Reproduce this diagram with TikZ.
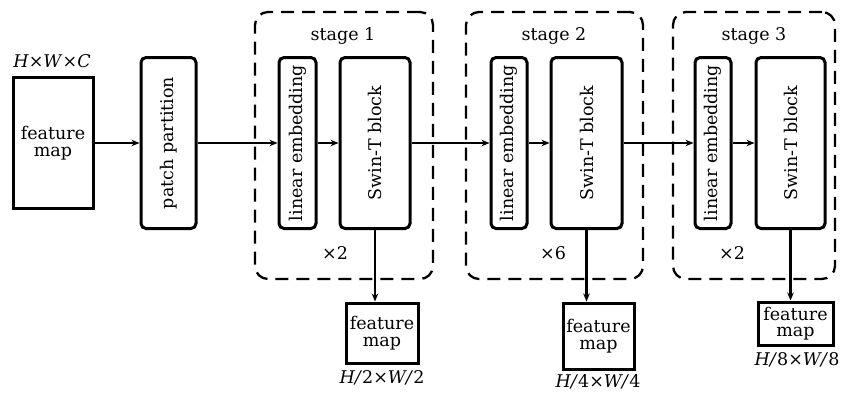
\documentclass[tikz,border=0pt]{standalone}
\usepackage{fontspec}
\usepackage{graphicx}
\setmainfont{DejaVu Serif}
\usetikzlibrary{arrows.meta}
\tikzset{
  lbl/.style={font=\fontsize{17.5}{18}\selectfont, inner sep=0pt},
  fmbox/.style={draw, line width=3pt, inner sep=0pt, align=center,
    font=\fontsize{17.5}{16.5}\selectfont},
  blockbox/.style={draw, line width=3pt, rounded corners=5pt, inner sep=0pt,
    font=\fontsize{17.5}{18}\selectfont},
  stagebox/.style={draw, line width=2.3pt, dash pattern=on 13pt off 8pt,
    rounded corners=13pt, inner sep=0pt},
  arr/.style={line width=2.8pt, -{Stealth[length=8pt,width=6.5pt]}},
}
\begin{document}
\begin{tikzpicture}[x=1pt,y=-1pt]
\useasboundingbox (0,0) rectangle (841,392);

% dashed stage frames
\node[stagebox, minimum width=178pt, minimum height=267pt] (st1) at (344,145.5) {};
\node[stagebox, minimum width=177pt, minimum height=267pt] (st2) at (554.5,145.5) {};
\node[stagebox, minimum width=162pt, minimum height=267pt] (st3) at (754,145.5) {};
\node[lbl] (st1t) at (343,36) {stage 1};
\node[lbl] (st2t) at (554,36) {stage 2};
\node[lbl] (st3t) at (754,36) {stage 3};
\node[lbl] (rep1) at (335,253) {×2};
\node[lbl] (rep2) at (553,253) {×6};
\node[lbl] (rep3) at (732,253) {×2};

% input feature map and patch partition
\node[fmbox, minimum width=80pt, minimum height=131pt] (fm0) at (53,143) {feature\\map};
\node[lbl] (fm0t) at (52,61) {\textit{H}×\textit{W}×\textit{C}};
\node[blockbox, minimum width=55pt, minimum height=171pt] (pp) at (168.5,143)
  {\rotatebox{90}{patch partition}};

% stage blocks
\node[blockbox, minimum width=37pt, minimum height=171pt] (le1) at (297.5,143)
  {\rotatebox{90}{linear embedding}};
\node[blockbox, minimum width=70pt, minimum height=171pt] (sw1) at (375,143)
  {\rotatebox{90}{Swin-T block}};
\node[blockbox, minimum width=36pt, minimum height=171pt] (le2) at (509,143)
  {\rotatebox{90}{linear embedding}};
\node[blockbox, minimum width=71pt, minimum height=171pt] (sw2) at (586.5,143)
  {\rotatebox{90}{Swin-T block}};
\node[blockbox, minimum width=36pt, minimum height=171pt] (le3) at (713,143)
  {\rotatebox{90}{linear embedding}};
\node[blockbox, minimum width=69pt, minimum height=171pt] (sw3) at (790.5,143)
  {\rotatebox{90}{Swin-T block}};

% output feature maps
\node[fmbox, minimum width=72pt, minimum height=60pt] (fm1) at (382,333) {feature\\map};
\node[fmbox, minimum width=71pt, minimum height=66pt] (fm2) at (598.5,336) {feature\\map};
\node[fmbox, minimum width=75pt, minimum height=43pt] (fm3) at (795.5,323.5) {feature\\map};
\node[lbl] (fm1t) at (382,378) {\textit{H/}2×\textit{W/}2};
\node[lbl] (fm2t) at (598,382) {\textit{H/}4×\textit{W/}4};
\node[lbl] (fm3t) at (797,360) {\textit{H/}8×\textit{W/}8};

% main data path
\draw[arr] (fm0.east) -- (pp.west);
\draw[arr] (pp.east) -- (le1.west);
\draw[arr] (le1.east) -- (sw1.west);
\draw[arr] (sw1.east) -- (le2.west);
\draw[arr] (le2.east) -- (sw2.west);
\draw[arr] (sw2.east) -- (le3.west);
\draw[arr] (le3.east) -- (sw3.west);

% stage outputs
\draw[arr] (sw1.south) -- (sw1.south |- fm1.north);
\draw[arr] (sw2.south) -- (sw2.south |- fm2.north);
\draw[arr] (sw3.south) -- (sw3.south |- fm3.north);
\end{tikzpicture}
\end{document}
